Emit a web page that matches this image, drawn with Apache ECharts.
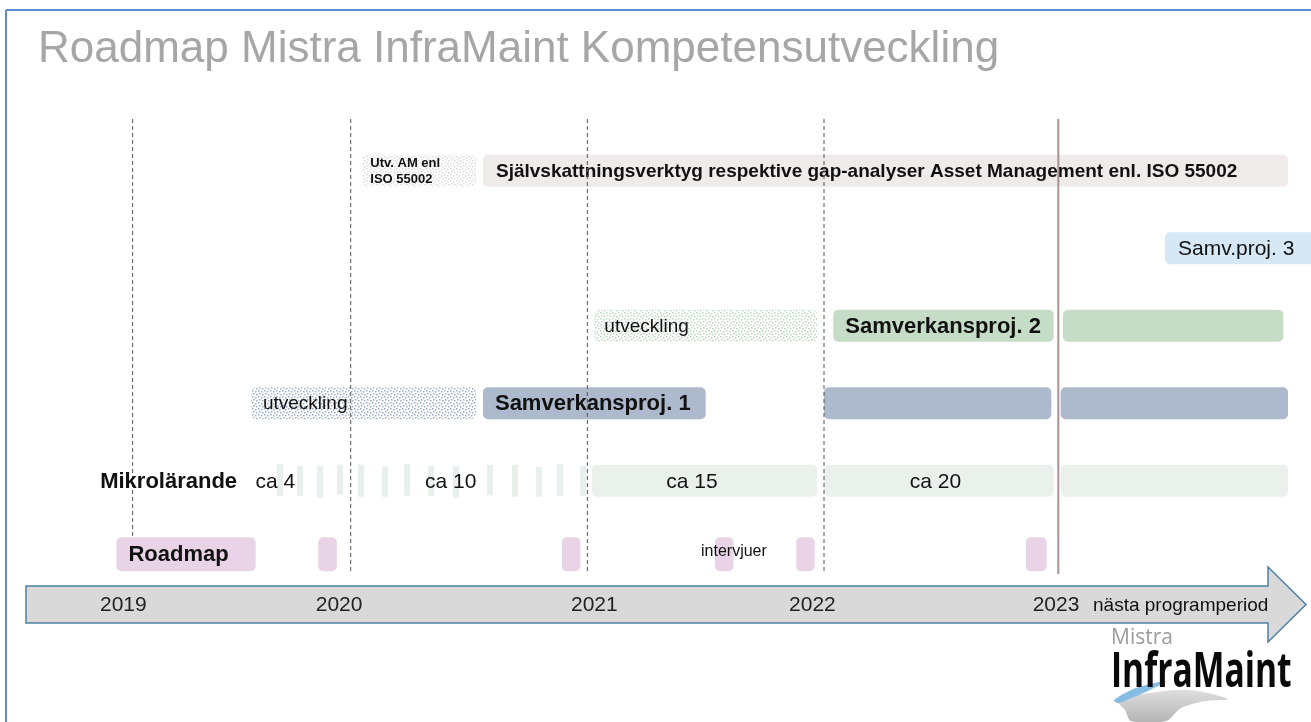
<!DOCTYPE html>
<html>
<head>
<meta charset="utf-8">
<title>Roadmap Mistra InfraMaint Kompetensutveckling</title>
<script src="https://cdn.jsdelivr.net/npm/echarts@6/dist/echarts.min.js"></script>
<style>
  html, body { margin: 0; padding: 0; background: #fff; }
  #main { width: 1311px; height: 722px; }
</style>
</head>
<body>
<div id="main"></div>
<script>
var FONT = '"Liberation Sans", Arial, sans-serif';

// rader uppifrån och ner
var rowNames = ['ISO 55002', 'Samverkansproj. 3', 'Samverkansproj. 2', 'Samverkansproj. 1', 'Mikrolärande', 'Roadmap'];

// [start, slut, rad, text, typ]
var phases = [
  [2020.01, 2020.50, 0, 'Utv. AM enl\nISO 55002', 'isoDev'],
  [2020.53, 2024.00, 0, 'Självskattningsverktyg respektive gap-analyser Asset Management enl. ISO 55002', 'iso'],
  [2023.47, 2024.20, 1, 'Samv.proj. 3', 'samv3'],
  [2021.01, 2021.97, 2, 'utveckling', 'samv2Dev'],
  [2022.04, 2022.99, 2, 'Samverkansproj. 2', 'samv2'],
  [2023.03, 2023.98, 2, '', 'samv2'],
  [2019.53, 2020.50, 3, 'utveckling', 'samv1Dev'],
  [2020.53, 2021.49, 3, 'Samverkansproj. 1', 'samv1'],
  [2022.00, 2022.98, 3, '', 'samv1'],
  [2023.02, 2024.00, 3, '', 'samv1'],
  [2021.00, 2021.97, 4, '', 'mikro'],
  [2022.00, 2022.99, 4, '', 'mikro'],
  [2023.02, 2024.00, 4, '', 'mikro']
];

// mikrolärande 2019-2020, tunna streck [start, slut]
var microStripes = [
  [2019.642, 2019.668], [2019.728, 2019.754], [2019.815, 2019.841], [2019.901, 2019.927],
  [2019.991, 2020.017], [2020.095, 2020.121], [2020.190, 2020.216], [2020.293, 2020.319],
  [2020.401, 2020.427], [2020.547, 2020.573], [2020.655, 2020.681], [2020.759, 2020.785],
  [2020.849, 2020.875], [2020.948, 2020.974]
];

// roadmap / intervjuer [start, slut, text]
var milestones = [
  [2018.95, 2019.55, 'Roadmap'],
  [2019.82, 2019.90, ''],
  [2020.87, 2020.95, ''],
  [2021.53, 2021.61, ''],
  [2021.88, 2021.96, ''],
  [2022.87, 2022.96, '']
];

// fria texter [x, rad, text, fet]
var notes = [
  [2018.88, 4, 'Mikrolärande', true],
  [2019.55, 4, 'ca 4', false],
  [2020.28, 4, 'ca 10', false],
  [2021.32, 4, 'ca 15', false],
  [2022.37, 4, 'ca 20', false],
  [2021.47, 5, 'intervjuer', false]
];

var yearLines = [2019.02, 2019.96, 2020.98, 2022.00];
var periodEnd = [2023.01];
var yearTicks = [2018.98, 2019.91, 2021.01, 2021.95, 2023.00];

function dotPattern(color) {
  var c = document.createElement('canvas');
  c.width = 6;
  c.height = 6;
  var ctx = c.getContext('2d');
  ctx.fillStyle = '#ffffff';
  ctx.fillRect(0, 0, 6, 6);
  ctx.fillStyle = color;
  [[0, 0], [3, 1], [1, 3], [4, 4]].forEach(function (p) {
    ctx.fillRect(p[0], p[1], 1.5, 1.5);
  });
  return { image: c, repeat: 'repeat' };
}

var kinds = {
  isoDev: { fill: dotPattern('#dadada'), size: 13, weight: 'bold', pad: 8 },
  iso: { fill: '#efebea', size: 19, weight: 'bold', pad: 13 },
  samv3: { fill: '#d6e8f5', size: 21, weight: 'normal', pad: 13 },
  samv2Dev: { fill: dotPattern('#b9d6bd'), size: 19, weight: 'normal', pad: 10 },
  samv2: { fill: '#c5dcc7', size: 22, weight: 'bold', pad: 12 },
  samv1Dev: { fill: dotPattern('#9aabc6'), size: 19, weight: 'normal', pad: 12 },
  samv1: { fill: '#adb9cc', size: 22, weight: 'bold', pad: 12 },
  mikro: { fill: '#eaf0ec', size: 21, weight: 'normal', pad: 12 }
};

function renderPhase(params, api) {
  var item = phases[params.dataIndex];
  var k = kinds[item[4]];
  var p0 = api.coord([api.value(0), api.value(2)]);
  var p1 = api.coord([api.value(1), api.value(2)]);
  var h = 32;
  var children = [{
    type: 'rect',
    shape: { x: p0[0], y: p0[1] - h / 2, width: p1[0] - p0[0], height: h, r: 5 },
    style: { fill: k.fill }
  }];
  if (item[3]) {
    children.push({
      type: 'text',
      x: p0[0] + k.pad,
      y: p0[1] + 1,
      style: {
        text: item[3],
        fill: '#111',
        fontFamily: FONT,
        fontSize: k.size,
        fontWeight: k.weight,
        lineHeight: 16,
        align: 'left',
        verticalAlign: 'middle'
      }
    });
  }
  return { type: 'group', children: children };
}

function renderStripe(params, api) {
  var p0 = api.coord([api.value(0), 4]);
  var p1 = api.coord([api.value(1), 4]);
  var h = params.dataIndex % 2 ? 30 : 32;
  return {
    type: 'rect',
    shape: { x: p0[0], y: p0[1] - h / 2 + (params.dataIndex % 3) - 1, width: p1[0] - p0[0], height: h },
    style: { fill: '#e9efeb' }
  };
}

function renderMilestone(params, api) {
  var item = milestones[params.dataIndex];
  var p0 = api.coord([api.value(0), 5]);
  var p1 = api.coord([api.value(1), 5]);
  var h = 34;
  var cy = p0[1] - 4;
  var children = [{
    type: 'rect',
    shape: { x: p0[0], y: cy - h / 2, width: p1[0] - p0[0], height: h, r: 5 },
    style: { fill: '#e8d4e6' }
  }];
  if (item[2]) {
    children.push({
      type: 'text',
      x: p0[0] + 12,
      y: cy + 1,
      style: {
        text: item[2], fill: '#111', fontFamily: FONT, fontSize: 22,
        fontWeight: 'bold', align: 'left', verticalAlign: 'middle'
      }
    });
  }
  return { type: 'group', children: children };
}

function renderNote(params, api) {
  var item = notes[params.dataIndex];
  var p = api.coord([api.value(0), api.value(1)]);
  var small = item[2] === 'intervjuer';
  return {
    type: 'text',
    x: p[0],
    y: p[1] + (small ? -7 : 1),
    style: {
      text: item[2], fill: '#111', fontFamily: FONT,
      fontSize: small ? 16 : (item[3] ? 22 : 21),
      fontWeight: item[3] ? 'bold' : 'normal',
      align: 'left', verticalAlign: 'middle'
    }
  };
}

function lineRenderer(dashed) {
  return function (params, api) {
    var x = api.coord([api.value(0), 0])[0];
    var cs = params.coordSys;
    return {
      type: 'line',
      shape: { x1: x, y1: cs.y - 13, x2: x, y2: cs.y + cs.height - 23 },
      style: dashed
        ? { stroke: '#555', lineWidth: 1, lineDash: [4, 3] }
        : { stroke: '#a99393', lineWidth: 2 }
    };
  };
}

var chart = echarts.init(document.getElementById('main'));

chart.setOption({
  animation: false,
  grid: { left: 12, top: 132, width: 1276, height: 465 },
  xAxis: {
    type: 'value',
    min: 2018.5,
    max: 2024,
    axisLine: { show: false },
    axisTick: { show: false },
    splitLine: { show: false },
    axisLabel: {
      customValues: yearTicks,
      formatter: function (v) { return String(Math.round(v)); },
      fontFamily: FONT,
      fontSize: 21,
      color: '#222',
      margin: 8,
      verticalAlign: 'middle'
    }
  },
  yAxis: {
    type: 'category',
    data: rowNames,
    inverse: true,
    show: false
  },
  graphic: [
    { type: 'line', shape: { x1: 6, y1: 10, x2: 1311, y2: 10 }, style: { stroke: '#5b8fd3', lineWidth: 2 } },
    { type: 'line', shape: { x1: 6, y1: 10, x2: 6, y2: 722 }, style: { stroke: '#5b8fd3', lineWidth: 2 } },
    {
      type: 'text', x: 38, y: 50,
      style: {
        text: 'Roadmap Mistra InfraMaint Kompetensutveckling',
        fill: '#a6a6a6', fontFamily: FONT, fontSize: 44,
        align: 'left', verticalAlign: 'middle'
      }
    },
    {
      type: 'polygon', z: -1,
      shape: { points: [[26, 586], [1268, 586], [1268, 567], [1306, 604.5], [1268, 642], [1268, 623], [26, 623]] },
      style: { fill: '#d9d9d9', stroke: '#50809f', lineWidth: 1.5 }
    },
    {
      type: 'text', x: 1093, y: 606,
      style: {
        text: 'nästa programperiod', fill: '#111', fontFamily: FONT,
        fontSize: 19, align: 'left', verticalAlign: 'middle'
      }
    },
    {
      type: 'text', x: 1111, y: 638,
      style: {
        text: 'Mistra', fill: '#9c9c9c', fontFamily: '"Open Sans", sans-serif',
        fontSize: 21, align: 'left', verticalAlign: 'middle'
      }
    },
    {
      type: 'polygon',
      shape: {
        points: [[1118, 701], [1150, 693], [1190, 690], [1228, 699], [1205, 701], [1181, 708], [1166, 721], [1131, 721], [1125, 710]],
        smooth: 0.3
      },
      style: {
        fill: new echarts.graphic.LinearGradient(0, 0, 0, 1, [
          { offset: 0, color: '#dedede' },
          { offset: 1, color: '#b4b4b4' }
        ])
      }
    },
    {
      type: 'polygon',
      shape: {
        points: [[1114, 700], [1136, 688], [1166, 681], [1150, 690], [1129, 699], [1118, 703]],
        smooth: 0.3
      },
      style: { fill: '#86bde4' }
    },
    {
      type: 'text', x: 1111, y: 673, scaleX: 0.70,
      style: {
        text: 'InfraMaint', fill: '#0a0a0a', fontFamily: '"Open Sans", sans-serif',
        fontSize: 48, fontWeight: 'bold', align: 'left', verticalAlign: 'middle'
      }
    }
  ],
  series: [
    {
      type: 'custom',
      name: 'faser',
      z: 2,
      renderItem: renderPhase,
      encode: { x: [0, 1], y: 2 },
      data: phases.map(function (p) { return [p[0], p[1], p[2]]; })
    },
    {
      type: 'custom',
      name: 'mikrolärande',
      z: 2,
      renderItem: renderStripe,
      encode: { x: [0, 1] },
      data: microStripes
    },
    {
      type: 'custom',
      name: 'årsgränser',
      z: 3,
      renderItem: lineRenderer(true),
      encode: { x: 0 },
      data: yearLines.map(function (v) { return [v]; })
    },
    {
      type: 'custom',
      name: 'programperiod',
      z: 3,
      renderItem: lineRenderer(false),
      encode: { x: 0 },
      data: periodEnd.map(function (v) { return [v]; })
    },
    {
      type: 'custom',
      name: 'roadmap',
      z: 4,
      renderItem: renderMilestone,
      encode: { x: [0, 1] },
      data: milestones.map(function (m) { return [m[0], m[1]]; })
    },
    {
      type: 'custom',
      name: 'texter',
      z: 5,
      renderItem: renderNote,
      encode: { x: 0, y: 1 },
      data: notes.map(function (n) { return [n[0], n[1]]; })
    }
  ]
});
</script>
</body>
</html>
